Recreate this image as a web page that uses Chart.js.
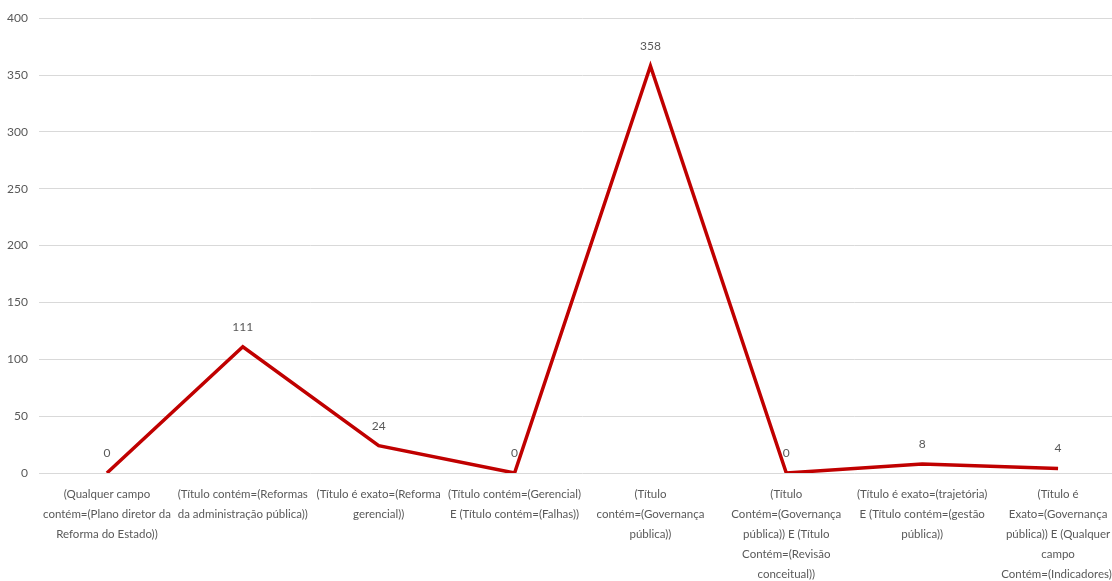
<!DOCTYPE html>
<html>
<head>
<meta charset="utf-8">
<script src="https://cdn.jsdelivr.net/npm/chart.js@4/dist/chart.umd.min.js"></script>
<style>
  html, body { margin: 0; padding: 0; background: #ffffff; overflow: hidden; }
  #wrap { position: absolute; left: 0; top: 0; width: 1126px; height: 581px; }
</style>
</head>
<body>
<div id="wrap"><canvas id="chart" width="1126" height="581"></canvas></div>
<script>
// Search queries (one wrapped label per category)
const categories = [
  ["(Qualquer campo", "contém=(Plano diretor da", "Reforma do Estado))"],
  ["(Título contém=(Reformas", "da administração pública))"],
  ["(Título é exato=(Reforma", "gerencial))"],
  ["(Título contém=(Gerencial)", "E (Título contém=(Falhas))"],
  ["(Título", "contém=(Governança", "pública))"],
  ["(Título", "Contém=(Governança", "pública)) E (Título", "Contém=(Revisão", "conceitual))"],
  ["(Título é exato=(trajetória)", "E (Título contém=(gestão", "pública))"],
  ["(Título é", "Exato=(Governança", "pública)) E (Qualquer", "campo", "Contém=(Indicadores))"]
];

// Number of results per query
const results = [0, 111, 24, 0, 358, 0, 8, 4];

const yTicks = [0, 50, 100, 150, 200, 250, 300, 350, 400];

const textColor = '#595959';
const fontFamily = 'Lato, "Open Sans", sans-serif';

// Writes each point's value above it
const valueLabels = {
  id: 'valueLabels',
  afterDatasetsDraw(chart) {
    const ctx = chart.ctx;
    const meta = chart.getDatasetMeta(0);
    const data = chart.data.datasets[0].data;
    ctx.save();
    ctx.font = '12px ' + fontFamily;
    ctx.fillStyle = textColor;
    ctx.textAlign = 'center';
    ctx.textBaseline = 'middle';
    meta.data.forEach((pt, i) => {
      ctx.fillText(String(data[i]), pt.x, pt.y - 20);
    });
    ctx.restore();
  }
};

new Chart(document.getElementById('chart'), {
  type: 'line',
  data: {
    labels: categories,
    datasets: [{
      data: results,
      borderColor: '#c00000',
      borderWidth: 3.5,
      pointRadius: 0,
      tension: 0,
      fill: false
    }]
  },
  options: {
    responsive: false,
    animation: false,
    layout: { padding: { top: 11, right: 0, bottom: 0, left: 0 } },
    plugins: { legend: { display: false }, tooltip: { enabled: false } },
    scales: {
      x: {
        offset: true,
        grid: { display: false, drawTicks: false },
        border: { display: false },
        ticks: {
          autoSkip: false,
          maxRotation: 0,
          minRotation: 0,
          padding: 11,
          color: textColor,
          font: { family: fontFamily, size: 11.5, lineHeight: '20px' }
        },
        afterFit(scale) { scale.height = 108; }
      },
      y: {
        min: 0,
        max: 400,
        afterBuildTicks(scale) { scale.ticks = yTicks.map(v => ({ value: v })); },
        grid: { color: '#d9d9d9', lineWidth: 1, drawTicks: false },
        border: { display: false },
        ticks: {
          padding: 11,
          color: textColor,
          font: { family: fontFamily, size: 12 }
        },
        afterFit(scale) { scale.width = 39; }
      }
    }
  },
  plugins: [valueLabels]
});
</script>
</body>
</html>
